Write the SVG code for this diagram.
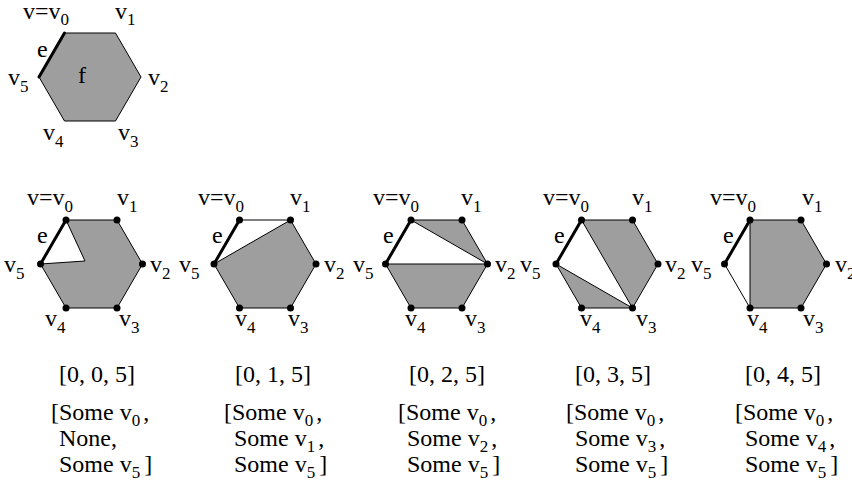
<svg xmlns="http://www.w3.org/2000/svg" width="852" height="482" viewBox="0 0 852 482">
<style>
.t{font-family:"Liberation Serif","Times New Roman",serif;font-size:24px;fill:#000}
.s{font-size:17px}
.g{fill:#9e9e9e;stroke:#000;stroke-width:1;stroke-linejoin:round}
.ln{stroke:#000;stroke-width:1;fill:none}
.tk{stroke:#000;stroke-width:3;stroke-linecap:round;fill:none}
.d{fill:#000}
</style>
<rect width="852" height="482" fill="#fff"/>

<g id="face">
<polygon class="g" points="64.5,33 115.5,33 141,77 115.5,121 64.5,121 39,77"/>
<line class="tk" x1="39" y1="77" x2="64.5" y2="33"/>
<text class="t" x="23" y="19">v=v<tspan class="s" dy="6">0</tspan></text>
<text class="t" x="115" y="19">v<tspan class="s" dy="6">1</tspan></text>
<text class="t" x="37" y="57">e</text>
<text class="t" x="78" y="83">f</text>
<text class="t" x="8" y="85">v<tspan class="s" dy="7">5</tspan></text>
<text class="t" x="148" y="85">v<tspan class="s" dy="7">2</tspan></text>
<text class="t" x="43" y="140">v<tspan class="s" dy="7">4</tspan></text>
<text class="t" x="118" y="140">v<tspan class="s" dy="7">3</tspan></text>
</g>

<g id="step0">
<polygon class="g" points="66,220 117,220 142.5,264 117,308 66,308 40.5,264 85,261"/>
<line class="tk" x1="40.5" y1="264" x2="66" y2="220"/>
<g class="d"><circle cx="66" cy="220" r="3.5"/><circle cx="117" cy="220" r="3.5"/><circle cx="142.5" cy="264" r="3.5"/><circle cx="117" cy="308" r="3.5"/><circle cx="66" cy="308" r="3.5"/><circle cx="40.5" cy="264" r="3.5"/></g>
<text class="t" x="27" y="205">v=v<tspan class="s" dy="7">0</tspan></text>
<text class="t" x="117" y="205">v<tspan class="s" dy="7">1</tspan></text>
<text class="t" x="37" y="243">e</text>
<text class="t" x="4" y="272">v<tspan class="s" dy="7">5</tspan></text>
<text class="t" x="150" y="272">v<tspan class="s" dy="7">2</tspan></text>
<text class="t" x="45" y="326">v<tspan class="s" dy="7">4</tspan></text>
<text class="t" x="119" y="326">v<tspan class="s" dy="7">3</tspan></text>
<text class="t" x="59" y="382">[0, 0, 5]</text>
<text class="t" x="51" y="420">[Some v<tspan class="s" dy="6">0</tspan><tspan dx="3" dy="-6">,</tspan></text>
<text class="t" x="59" y="446">None,</text>
<text class="t" x="59" y="472">Some v<tspan class="s" dy="6">5</tspan><tspan dx="4" dy="-6">]</tspan></text>
</g>

<g id="step1">
<polygon class="g" points="290.5,220 316,264 290.5,308 239.5,308 214,264"/>
<line class="ln" x1="239.5" y1="220" x2="290.5" y2="220"/>
<line class="tk" x1="214" y1="264" x2="239.5" y2="220"/>
<g class="d"><circle cx="239.5" cy="220" r="3.5"/><circle cx="290.5" cy="220" r="3.5"/><circle cx="316" cy="264" r="3.5"/><circle cx="290.5" cy="308" r="3.5"/><circle cx="239.5" cy="308" r="3.5"/><circle cx="214" cy="264" r="3.5"/></g>
<text class="t" x="198" y="205">v=v<tspan class="s" dy="7">0</tspan></text>
<text class="t" x="290" y="205">v<tspan class="s" dy="7">1</tspan></text>
<text class="t" x="212" y="243">e</text>
<text class="t" x="179" y="272">v<tspan class="s" dy="7">5</tspan></text>
<text class="t" x="324" y="272">v<tspan class="s" dy="7">2</tspan></text>
<text class="t" x="235" y="326">v<tspan class="s" dy="7">4</tspan></text>
<text class="t" x="288" y="326">v<tspan class="s" dy="7">3</tspan></text>
<text class="t" x="235" y="382">[0, 1, 5]</text>
<text class="t" x="224" y="420">[Some v<tspan class="s" dy="6">0</tspan><tspan dx="3" dy="-6">,</tspan></text>
<text class="t" x="234" y="446">Some v<tspan class="s" dy="6">1</tspan><tspan dx="3" dy="-6">,</tspan></text>
<text class="t" x="234" y="472">Some v<tspan class="s" dy="6">5</tspan><tspan dx="4" dy="-6">]</tspan></text>
</g>

<g id="step2">
<polygon class="g" points="411,220 462,220 487.5,264"/>
<polygon class="g" points="487.5,264 462,308 411,308 385.5,264"/>
<line class="tk" x1="385.5" y1="264" x2="411" y2="220"/>
<g class="d"><circle cx="411" cy="220" r="3.5"/><circle cx="462" cy="220" r="3.5"/><circle cx="487.5" cy="264" r="3.5"/><circle cx="462" cy="308" r="3.5"/><circle cx="411" cy="308" r="3.5"/><circle cx="385.5" cy="264" r="3.5"/></g>
<text class="t" x="373" y="205">v=v<tspan class="s" dy="7">0</tspan></text>
<text class="t" x="461" y="205">v<tspan class="s" dy="7">1</tspan></text>
<text class="t" x="383" y="243">e</text>
<text class="t" x="353" y="272">v<tspan class="s" dy="7">5</tspan></text>
<text class="t" x="495" y="272">v<tspan class="s" dy="7">2</tspan></text>
<text class="t" x="405" y="326">v<tspan class="s" dy="7">4</tspan></text>
<text class="t" x="465" y="326">v<tspan class="s" dy="7">3</tspan></text>
<text class="t" x="409" y="382">[0, 2, 5]</text>
<text class="t" x="398" y="420">[Some v<tspan class="s" dy="6">0</tspan><tspan dx="3" dy="-6">,</tspan></text>
<text class="t" x="407" y="446">Some v<tspan class="s" dy="6">2</tspan><tspan dx="3" dy="-6">,</tspan></text>
<text class="t" x="407" y="472">Some v<tspan class="s" dy="6">5</tspan><tspan dx="4" dy="-6">]</tspan></text>
</g>

<g id="step3">
<polygon class="g" points="581.5,220 632.5,220 658,264 632.5,308"/>
<polygon class="g" points="632.5,308 581.5,308 556,264"/>
<line class="tk" x1="556" y1="264" x2="581.5" y2="220"/>
<g class="d"><circle cx="581.5" cy="220" r="3.5"/><circle cx="632.5" cy="220" r="3.5"/><circle cx="658" cy="264" r="3.5"/><circle cx="632.5" cy="308" r="3.5"/><circle cx="581.5" cy="308" r="3.5"/><circle cx="556" cy="264" r="3.5"/></g>
<text class="t" x="543" y="205">v=v<tspan class="s" dy="7">0</tspan></text>
<text class="t" x="632" y="205">v<tspan class="s" dy="7">1</tspan></text>
<text class="t" x="554" y="243">e</text>
<text class="t" x="520" y="272">v<tspan class="s" dy="7">5</tspan></text>
<text class="t" x="665" y="272">v<tspan class="s" dy="7">2</tspan></text>
<text class="t" x="580" y="326">v<tspan class="s" dy="7">4</tspan></text>
<text class="t" x="636" y="326">v<tspan class="s" dy="7">3</tspan></text>
<text class="t" x="575" y="382">[0, 3, 5]</text>
<text class="t" x="566" y="420">[Some v<tspan class="s" dy="6">0</tspan><tspan dx="3" dy="-6">,</tspan></text>
<text class="t" x="575" y="446">Some v<tspan class="s" dy="6">3</tspan><tspan dx="3" dy="-6">,</tspan></text>
<text class="t" x="575" y="472">Some v<tspan class="s" dy="6">5</tspan><tspan dx="4" dy="-6">]</tspan></text>
</g>

<g id="step4">
<polygon class="g" points="750,220 801,220 826.5,264 801,308 750,308"/>
<line class="ln" x1="750" y1="308" x2="724.5" y2="264"/>
<line class="tk" x1="724.5" y1="264" x2="750" y2="220"/>
<g class="d"><circle cx="750" cy="220" r="3.5"/><circle cx="801" cy="220" r="3.5"/><circle cx="826.5" cy="264" r="3.5"/><circle cx="801" cy="308" r="3.5"/><circle cx="750" cy="308" r="3.5"/><circle cx="724.5" cy="264" r="3.5"/></g>
<text class="t" x="710" y="205">v=v<tspan class="s" dy="7">0</tspan></text>
<text class="t" x="802" y="205">v<tspan class="s" dy="7">1</tspan></text>
<text class="t" x="723" y="243">e</text>
<text class="t" x="691" y="272">v<tspan class="s" dy="7">5</tspan></text>
<text class="t" x="835" y="272">v<tspan class="s" dy="7">2</tspan></text>
<text class="t" x="747" y="326">v<tspan class="s" dy="7">4</tspan></text>
<text class="t" x="803" y="326">v<tspan class="s" dy="7">3</tspan></text>
<text class="t" x="745" y="382">[0, 4, 5]</text>
<text class="t" x="735" y="420">[Some v<tspan class="s" dy="6">0</tspan><tspan dx="3" dy="-6">,</tspan></text>
<text class="t" x="745" y="446">Some v<tspan class="s" dy="6">4</tspan><tspan dx="3" dy="-6">,</tspan></text>
<text class="t" x="745" y="472">Some v<tspan class="s" dy="6">5</tspan><tspan dx="4" dy="-6">]</tspan></text>
</g>
</svg>
